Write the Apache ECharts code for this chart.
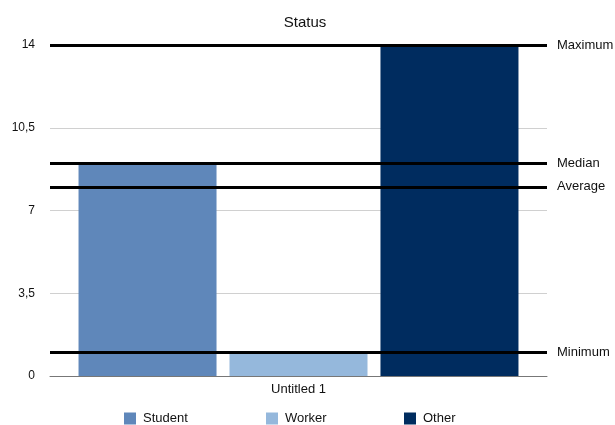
<!DOCTYPE html>
<html>
<head>
<meta charset="utf-8">
<script src="https://cdn.jsdelivr.net/npm/echarts@6/dist/echarts.min.js"></script>
<style>html,body{margin:0;padding:0;background:#fff}#c{width:615px;height:425px}</style>
</head>
<body>
<div id="c"></div>
<script>
var categories = ['Untitled 1'];
var seriesNames = ['Student', 'Worker', 'Other'];
var studentValues = [9];
var workerValues = [1];
var otherValues = [14];
var seriesColors = ['#5f87ba', '#95b8dc', '#002c5f'];
var yTicks = [0, 3.5, 7, 10.5, 14];

var allVals = studentValues.concat(workerValues, otherValues);
var sorted = allVals.slice().sort(function(a,b){return a-b;});
var maxV = sorted[sorted.length-1];
var minV = sorted[0];
var medV = sorted.length % 2 ? sorted[(sorted.length-1)/2] : (sorted[sorted.length/2-1]+sorted[sorted.length/2])/2;
var avgV = allVals.reduce(function(a,b){return a+b;},0)/allVals.length;
var markLines = [
  {name:'Maximum', yAxis:maxV},
  {name:'Median', yAxis:medV},
  {name:'Average', yAxis:avgV},
  {name:'Minimum', yAxis:minV}
];

var font = '"Liberation Sans", Arial, Helvetica, sans-serif';
var chart = echarts.init(document.getElementById('c'));
var dataSets = [studentValues, workerValues, otherValues];
var series = seriesNames.map(function(n, i){
  var s = {
    name: n, type: 'bar', data: dataSets[i],
    barWidth: 138, barGap: '9.4%',
    itemStyle: {color: seriesColors[i]},
    emphasis: {disabled: true}
  };
  if (i === 0) {
    s.markLine = {
      silent: true, symbol: 'none', animation: false,
      lineStyle: {color: '#000', width: 3, type: 'solid'},
      label: {show: true, position: 'end', formatter: '{b}', color: '#111', fontSize: 13, fontFamily: font, distance: 10},
      data: markLines,
      z: 10
    };
  }
  return s;
});

var legendLefts = [124, 266, 404];
var legends = seriesNames.map(function(n, i){
  return {
    top: 412, left: legendLefts[i], padding: 0, itemWidth: 12, itemHeight: 12,
    icon: 'rect',
    textStyle: {fontSize: 13, color: '#111', fontFamily: font, padding: [0,0,0,2]},
    data: [n]
  };
});

chart.setOption({
  animation: false,
  title: {text: 'Status', left: 300, textAlign: 'center', top: 10, textStyle: {fontSize: 15, fontWeight: 'normal', color: '#111', fontFamily: font}},
  grid: {left: 50, right: 68, top: 45, bottom: 49},
  legend: legends,
  xAxis: {
    type: 'category', data: categories,
    axisLine: {lineStyle: {color: '#777', width: 1}},
    axisTick: {show: false},
    axisLabel: {color: '#111', fontSize: 13, fontFamily: font, margin: 7}
  },
  yAxis: {
    type: 'value', min: 0, max: 14, interval: 3.5,
    axisLine: {show: false}, axisTick: {show: false},
    axisLabel: {color: '#111', fontSize: 12, fontFamily: font, margin: 15,
      formatter: function(v){ return String(v).replace('.', ','); }},
    splitLine: {lineStyle: {color: '#d0d0d0', width: 1}}
  },
  series: series
});
</script>
</body>
</html>
